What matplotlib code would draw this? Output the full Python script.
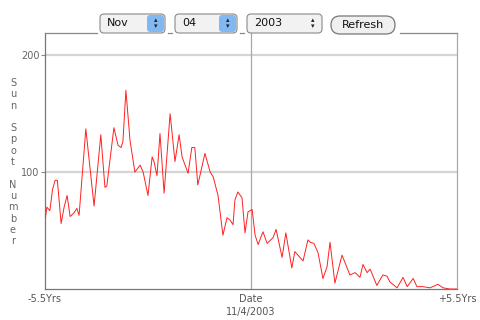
import matplotlib
matplotlib.use('Agg')
import matplotlib.pyplot as plt
from matplotlib.patches import FancyBboxPatch

# traced sunspot curve: years relative to 11/4/2003, sunspot number
years = [-5.49, -5.45, -5.37, -5.30, -5.23, -5.17, -5.07, -4.99, -4.91, -4.83,
         -4.73, -4.65, -4.59, -4.41, -4.19, -4.01, -3.90, -3.85, -3.66, -3.55,
         -3.47, -3.42, -3.34, -3.23, -3.10, -2.96, -2.88, -2.75, -2.64, -2.59,
         -2.51, -2.43, -2.32, -2.16, -2.03, -1.92, -1.84, -1.68, -1.58, -1.50,
         -1.42, -1.23, -1.09, -1.01, -0.88, -0.75, -0.64, -0.56, -0.48, -0.43,
         -0.35, -0.24, -0.16, -0.08, 0.03, 0.11, 0.19, 0.32, 0.43, 0.59,
         0.67, 0.83, 0.93, 1.09, 1.17, 1.39, 1.52, 1.58, 1.68, 1.79,
         1.92, 2.03, 2.11, 2.24, 2.43, 2.64, 2.78, 2.91, 2.99, 3.10,
         3.18, 3.36, 3.52, 3.63, 3.71, 3.90, 4.06, 4.17, 4.33, 4.43,
         4.59, 4.78, 4.99, 5.13, 5.31, 5.50]
sunspots = [61, 70, 67, 85, 93, 93, 56, 70, 80, 62,
            65, 69, 63, 137, 71, 132, 87, 88, 138, 123,
            121, 126, 170, 127, 100, 106, 100, 80, 113, 109,
            97, 133, 82, 150, 109, 132, 113, 99, 121, 121,
            89, 116, 100, 96, 80, 46, 61, 59, 55, 76,
            83, 78, 48, 66, 68, 46, 38, 49, 39, 44,
            51, 27, 48, 18, 32, 24, 42, 40, 39, 31,
            9, 19, 40, 5, 29, 12, 14, 10, 21, 14,
            17, 3, 12, 11, 6, 1, 10, 2, 9, 2,
            2, 1, 4, 1, 0, 0]

month_opts = 'Nov'
day_opts = '04'
year_opts = '2003'
ylabel = 'Sun Spot Number'

W, H = 480, 320
fig = plt.figure(figsize=(4.8, 3.2), dpi=100)
fig.patch.set_facecolor('white')

# overlay in pixel coordinates for the widgets and labels
ov = fig.add_axes([0, 0, 1, 1], zorder=5)
ov.set_xlim(0, W)
ov.set_ylim(H, 0)
ov.axis('off')
ov.patch.set_alpha(0)

L, R, T, B = 45, 457, 33, 289
ax = fig.add_axes([L / W, 1 - B / H, (R - L) / W, (B - T) / H])
ax.set_xlim(-5.5, 5.5)
ax.set_ylim(0, 219)

for y in [100, 200]:
    ax.axhline(y, color='#d4d4d4', lw=1.6, zorder=1)
ax.axvline(0, color='#a8a8a8', lw=0.9, zorder=1)
ax.plot(years, sunspots, color='#ff2020', lw=0.7, zorder=3)

ax.set_xticks([])
ax.set_yticks([100, 200])
ax.set_yticklabels(['100', '200'], color='#666666', fontsize=7)
ax.tick_params(axis='y', length=3, color='#888888', pad=1)
ax.spines['left'].set_color('#777777')
ax.spines['bottom'].set_color('#777777')
ax.spines['right'].set_color('#aaaaaa')
ax.spines['top'].set_visible(False)
for s in ['left', 'bottom', 'right']:
    ax.spines[s].set_linewidth(0.9)

# top border broken by the controls
for a, b in [(45, 97), (168, 172), (240, 244), (400, 457)]:
    ov.plot([a, b], [T, T], color='#888888', lw=0.9)

# x labels
ov.text(45, 299, '-5.5Yrs', ha='center', va='center', fontsize=7, color='#555555')
ov.text(251, 299, 'Date', ha='center', va='center', fontsize=7, color='#555555')
ov.text(251, 312, '11/4/2003', ha='center', va='center', fontsize=7, color='#555555')
ov.text(457, 299, '+5.5Yrs', ha='center', va='center', fontsize=7, color='#555555')

# stacked y label
for i, ch in enumerate(ylabel):
    if ch != ' ':
        ov.text(13, 83 + i * 11.3, ch, ha='center', va='center',
                fontsize=7, color='#666666')

# popup controls
def popup(x0, x1, label, blue):
    ov.add_patch(FancyBboxPatch((x0, 14), x1 - x0, 19,
                                boxstyle='round,pad=0,rounding_size=4',
                                facecolor='#f2f2f2', edgecolor='#8a8a8a', lw=0.8))
    if blue:
        ov.add_patch(FancyBboxPatch((x1 - 18, 15), 17, 17,
                                    boxstyle='round,pad=0,rounding_size=3',
                                    facecolor='#80b8f2', edgecolor='none'))
    ov.text(x0 + 7, 23.5, label, ha='left', va='center', fontsize=8, color='#111111')
    ov.text(x1 - 9, 20.5, '\u25b4', ha='center', va='center', fontsize=5, color='#222222')
    ov.text(x1 - 9, 26.5, '\u25be', ha='center', va='center', fontsize=5, color='#222222')

popup(100, 165, month_opts, True)
popup(175, 237, day_opts, True)
popup(247, 322, year_opts, False)

ov.add_patch(FancyBboxPatch((331, 16), 64, 18,
                            boxstyle='round,pad=0,rounding_size=9',
                            facecolor='#f0f0f0', edgecolor='#777777', lw=0.9))
ov.text(363, 25, 'Refresh', ha='center', va='center', fontsize=8, color='#111111')

fig.savefig('out.png', dpi=100)
